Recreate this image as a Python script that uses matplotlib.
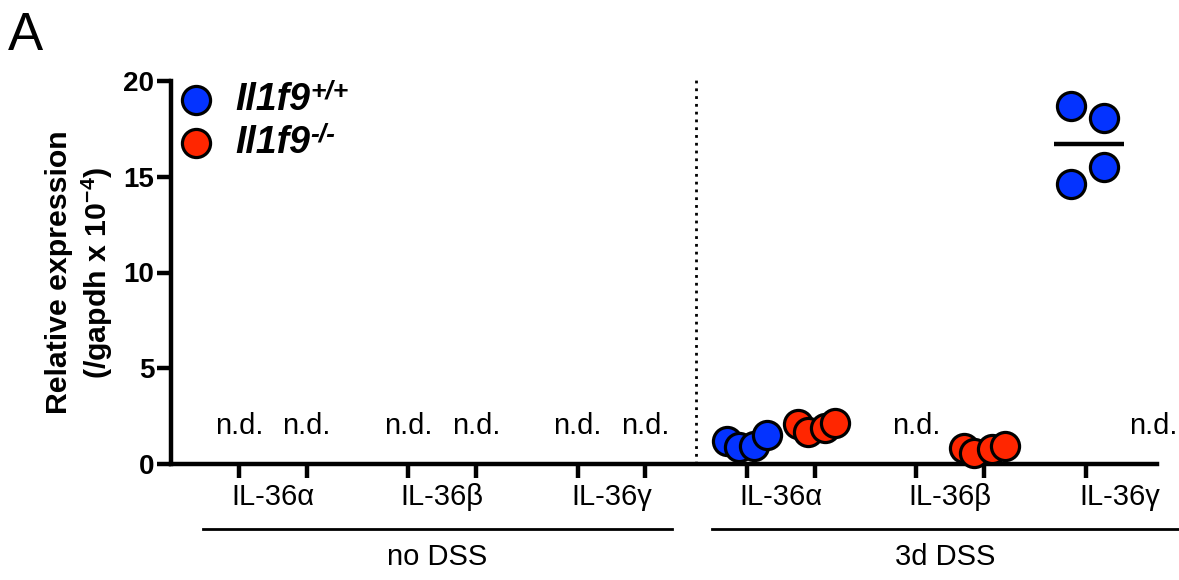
import matplotlib
matplotlib.use('Agg')
import matplotlib.pyplot as plt
import matplotlib.transforms as mtransforms
import numpy as np

plt.rcParams['font.family'] = ['Liberation Sans', 'DejaVu Sans']
plt.rcParams['mathtext.fontset'] = 'custom'
plt.rcParams['mathtext.rm'] = 'Liberation Sans:bold'
plt.rcParams['mathtext.bf'] = 'Liberation Sans:bold'
plt.rcParams['mathtext.it'] = 'Liberation Sans:bold:italic'

BLUE = '#0433ff'
RED = '#ff2600'

# tick positions: (no DSS a,b,g | 3d DSS a,b,g), each with +/+ and -/-
genes = ['IL-36\u03b1', 'IL-36\u03b2', 'IL-36\u03b3']
conditions = ['no DSS', '3d DSS']

# measured groups
wt_a_3d = [1.2, 0.9, 0.95, 1.5]
ko_a_3d = [2.1, 1.65, 1.9, 2.15]
ko_b_3d = [0.85, 0.6, 0.8, 0.95]
wt_g_3d = [18.7, 14.6, 18.05, 15.5]

pos = [0, 2, 5, 7, 10, 12, 15, 17, 20, 22, 25, 27]
# (x, colour, values, jitter, draw mean line)
groups = [
    (pos[6], BLUE, wt_a_3d, [-0.59, -0.24, 0.2, 0.59], False),
    (pos[7], RED, ko_a_3d, [-0.5, -0.2, 0.3, 0.6], False),
    (pos[9], RED, ko_b_3d, [-0.59, -0.29, 0.24, 0.62], False),
    (pos[10], BLUE, wt_g_3d, [-0.45, -0.45, 0.55, 0.55], True),
]
nd_positions = [pos[0], pos[1], pos[2], pos[3], pos[4], pos[5], pos[8], pos[11]]

fig = plt.figure(figsize=(11.79, 5.80), dpi=100)
ax = fig.add_axes([171 / 1179, 116 / 580, 986 / 1179, 383 / 580])

for x0, col, vals, offs, show_mean in groups:
    if show_mean:
        ax.plot([x0 - 0.93, x0 + 1.13], [np.mean(vals)] * 2, color='k', lw=3.2,
                zorder=2, solid_capstyle='butt')
    ax.scatter(np.array(offs) + x0, vals, s=410, color=col, edgecolor='k', linewidth=2.3,
               zorder=3, clip_on=False)

for x in nd_positions:
    ax.text(x, 2.0, 'n.d.', ha='center', va='center', fontsize=21)

ax.plot([13.5, 13.5], [0, 20.1], color='k', lw=2, linestyle=(0, (1, 1.8)), clip_on=False)

ax.set_xlim(-2, 27.1)
ax.set_ylim(0, 20)
ax.set_xticks(pos[:-1])
ax.set_xticklabels([])
ax.set_yticks([0, 5, 10, 15, 20])
ax.tick_params(axis='both', width=3.2, length=10, labelsize=20, pad=2)
for lab in ax.get_yticklabels():
    lab.set_fontweight('bold')
for s in ['top', 'right']:
    ax.spines[s].set_visible(False)
for s in ['left', 'bottom']:
    ax.spines[s].set_linewidth(3.2)

ax.set_ylabel('Relative expression\n(/gapdh x 10$^{-4}$)', fontsize=21.8, fontweight='bold',
              linespacing=1.25, labelpad=6)

trans = mtransforms.blended_transform_factory(ax.transData, ax.transAxes)
for i, cond in enumerate(conditions):
    for j, g in enumerate(genes):
        ax.text(pos[i * 6 + j * 2] + 1, -0.086, g, transform=trans, ha='center', va='center',
                fontsize=21)
x_lines = [(-1.06, 12.79), (13.97, 27.73)]
for (a, b), cond in zip(x_lines, conditions):
    ax.plot([a, b], [-0.17, -0.17], transform=trans, color='k', lw=2, clip_on=False)
    ax.text((a + b) / 2, -0.243, cond, transform=trans, ha='center', va='center', fontsize=21)

# legend
leg = [(BLUE, '+/+', 0.950), (RED, '-/-', 0.838)]
for col, sup, yy in leg:
    ax.scatter([0.0258], [yy], s=410, color=col, edgecolor='k', linewidth=2.3,
               transform=ax.transAxes, clip_on=False, zorder=4)
    t = ax.text(0.0655, yy, 'Il1f9', transform=ax.transAxes, ha='left', va='center',
                fontsize=27, fontweight='bold', fontstyle='italic')
    ax.annotate(sup, xy=(1.0, 1.0), xycoords=t, xytext=(0, 2), textcoords='offset points',
                ha='left', va='top', fontsize=19, fontweight='bold', fontstyle='italic')

fig.text(8 / 1179, 1 - 50 / 580, 'A', fontsize=38, ha='left', va='baseline')

fig.savefig('out.png', dpi=100)
